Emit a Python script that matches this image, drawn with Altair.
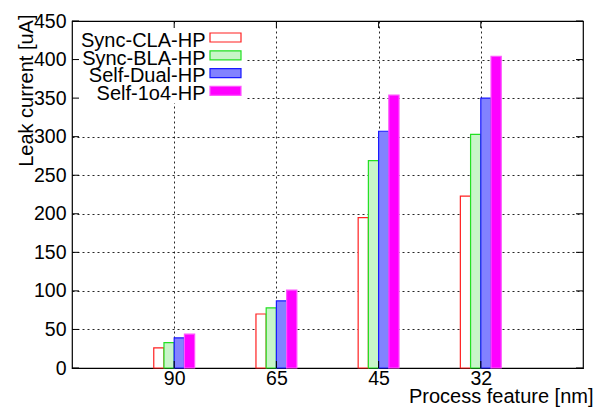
import altair as alt
import pandas as pd

# Process nodes (x categories) and leakage per design style [uA]
categories = ["90", "65", "45", "32"]
series = ["Sync-CLA-HP", "Sync-BLA-HP", "Self-Dual-HP", "Self-1o4-HP"]
sync_cla = [26, 70, 195, 223]
sync_bla = [33, 78, 269, 303]
self_dual = [39, 87, 307, 350]
self_1o4 = [44, 101, 354, 404]
y_ticks = [0, 50, 100, 150, 200, 250, 300, 350, 400, 450]
x_ticks = [0, 1, 2, 3]

fills = ["#ffffff", "#c8f5c8", "#8282ff", "#ff00ff"]
strokes = ["#ff2020", "#22e022", "#1a1aff", "#ff55ff"]
dashes = [[1, 0], [2, 2], [4, 3], [5, 3]]

W, H = 511, 347
FONT = "Liberation Sans"
FS = 19.5

rows = []
for si, (name, vals) in enumerate(zip(series, [sync_cla, sync_bla, self_dual, self_1o4])):
    for ci, (cat, v) in enumerate(zip(categories, vals)):
        rows.append({"series": name, "s": si, "cat": cat, "c": ci, "value": v})
bars_df = pd.DataFrame(rows)

fill_enc = alt.Fill("series:N", scale=alt.Scale(domain=series, range=fills), legend=None)
stroke_enc = alt.Stroke("series:N", scale=alt.Scale(domain=series, range=strokes), legend=None)
dash_enc = alt.StrokeDash("series:N", scale=alt.Scale(domain=series, range=dashes), legend=None)

label_expr = "[" + ",".join(f"'{c}'" for c in categories) + "][datum.value]"

x_scale = alt.Scale(domain=[-1, 4], nice=False, zero=False)
y_scale = alt.Scale(domain=[0, 450], nice=False)

x_axis = alt.Axis(
    values=x_ticks,
    labelExpr=label_expr,
    title="Process feature [nm]",
    titleX=521,
    titleY=34,
    titleAlign="right",
    titleBaseline="alphabetic",
    ticks=False,
    domain=False,
    labelPadding=1,
    labelOverlap=False,
    grid=True,
)
y_axis = alt.Axis(
    values=y_ticks,
    title="Leak current [uA]",
    titleAngle=270,
    titleX=-40,
    titleY=-7,
    titleAlign="right",
    titleBaseline="alphabetic",
    ticks=False,
    domain=False,
    labelPadding=6,
    labelOverlap=False,
    labelFlush=False,
    grid=True,
)

bars = (
    alt.Chart(bars_df)
    .transform_calculate(x0="datum.c + (datum.s - 2) * 0.1", x1="datum.c + (datum.s - 1) * 0.1")
    .mark_rect(strokeWidth=1.2)
    .encode(
        x=alt.X("x0:Q", scale=x_scale, axis=x_axis),
        x2="x1:Q",
        y=alt.Y("value:Q", scale=y_scale, axis=y_axis),
        y2=alt.datum(0),
        fill=fill_enc,
        stroke=stroke_enc,
        strokeDash=dash_enc,
    )
)

# Opaque key box
key_bg = (
    alt.Chart(pd.DataFrame({"k": [0]}))
    .mark_rect(fill="white", stroke=None)
    .encode(x=alt.value(1), x2=alt.value(174), y=alt.value(5), y2=alt.value(82))
)

key_df = pd.DataFrame({"series": series, "i": list(range(len(series)))})
key_sym = (
    alt.Chart(key_df)
    .transform_calculate(top="12 + 17.8 * datum.i", bot="21 + 17.8 * datum.i")
    .mark_rect(strokeWidth=1.2)
    .encode(
        x=alt.value(138),
        x2=alt.value(169),
        y=alt.Y("top:Q", scale=None),
        y2="bot:Q",
        fill=fill_enc,
        stroke=stroke_enc,
        strokeDash=dash_enc,
    )
)
key_txt = (
    alt.Chart(key_df)
    .transform_calculate(base="25.7 + 17.8 * datum.i")
    .mark_text(align="right", baseline="alphabetic", font=FONT, fontSize=20, color="black")
    .encode(x=alt.value(133.5), y=alt.Y("base:Q", scale=None), text="series:N")
)

# Inward tick marks on all four sides
yt_df = pd.DataFrame({"v": y_ticks})
xt_df = pd.DataFrame({"v": x_ticks})
left_ticks = alt.Chart(yt_df).mark_rule(color="black").encode(
    y=alt.Y("v:Q", scale=y_scale, axis=y_axis), x=alt.value(0), x2=alt.value(7)
)
right_ticks = alt.Chart(yt_df).mark_rule(color="black").encode(
    y=alt.Y("v:Q", scale=y_scale, axis=y_axis), x=alt.value(W - 7), x2=alt.value(W)
)
bottom_ticks = alt.Chart(xt_df).mark_rule(color="black").encode(
    x=alt.X("v:Q", scale=x_scale, axis=x_axis), y=alt.value(H - 7), y2=alt.value(H)
)
top_ticks = alt.Chart(xt_df).mark_rule(color="black").encode(
    x=alt.X("v:Q", scale=x_scale, axis=x_axis), y=alt.value(0), y2=alt.value(7)
)

chart = (
    alt.layer(bars, key_bg, key_sym, key_txt, left_ticks, right_ticks, bottom_ticks, top_ticks)
    .properties(
        width=W,
        height=H,
        autosize=alt.AutoSizeParams(type="none"),
        padding={"left": 72, "top": 21, "right": 16, "bottom": 40},
        background="white",
    )
    .configure_view(stroke="black", strokeWidth=1.2)
    .configure_axis(
        labelFont=FONT,
        labelFontSize=FS,
        labelColor="black",
        titleFont=FONT,
        titleFontSize=20,
        titleFontWeight="normal",
        titleColor="black",
        gridColor="black",
        gridDash=[2, 3],
        gridOpacity=0.85,
        gridWidth=1,
    )
)

chart.save("out.html", embed_options={"renderer": "svg", "actions": False})
